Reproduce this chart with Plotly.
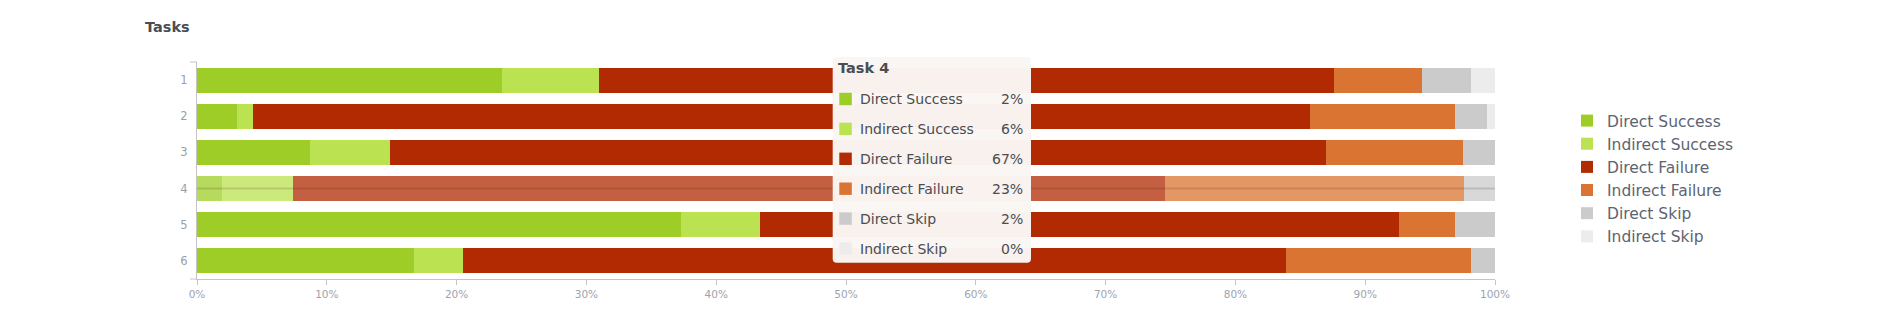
import plotly.graph_objects as go

# ---------------- data ----------------
tasks = ["1", "2", "3", "4", "5", "6"]
series_names = ["Direct Success", "Indirect Success", "Direct Failure",
                "Indirect Failure", "Direct Skip", "Indirect Skip"]
direct_success = [23.5, 3.1, 8.7, 1.9, 37.3, 16.7]
indirect_success = [7.5, 1.25, 6.2, 5.5, 6.1, 3.8]
direct_failure = [56.6, 81.4, 72.1, 67.2, 49.2, 63.4]
indirect_failure = [6.8, 11.15, 10.5, 23.0, 4.3, 14.25]
direct_skip = [3.75, 2.5, 2.5, 2.4, 3.1, 1.85]
indirect_skip = [1.85, 0.6, 0.0, 0.0, 0.0, 0.0]
x_ticks = [0, 10, 20, 30, 40, 50, 60, 70, 80, 90, 100]
x_tick_labels = ["0%", "10%", "20%", "30%", "40%", "50%", "60%", "70%", "80%", "90%", "100%"]
highlight_task = "4"

series_values = [direct_success, indirect_success, direct_failure,
                 indirect_failure, direct_skip, indirect_skip]
colors = ["#9ecd27", "#bbe250", "#b12a01", "#d97432", "#cbcbcb", "#ececec"]

FONT = "DejaVu Sans"
W, H = 1904, 332
ML, MR, MT, MB = 197, 409, 62, 53
PW, PH = W - ML - MR, H - MT - MB


def xp(px):
    return (px - ML) / PW


def yp(py):
    return (H - MB - py) / PH


fig = go.Figure()
hi = tasks.index(highlight_task)
for name, vals, col in zip(series_names, series_values, colors):
    fig.add_trace(go.Bar(
        y=tasks, x=vals, name=name, orientation="h",
        marker=dict(color=col, line=dict(width=0),
                    opacity=[0.75 if i == hi else 1 for i in range(len(tasks))]),
        hoverinfo="skip",
    ))

shapes = []
# hover crosshair line through highlighted row (category index)
shapes.append(dict(type="line", xref="paper", yref="y", x0=0, x1=1,
                   y0=hi, y1=hi,
                   line=dict(color="rgba(70,30,10,0.16)", width=2), layer="above"))
# left tick at top of category axis and extension of bottom axis line
shapes.append(dict(type="line", xref="paper", yref="paper", x0=xp(190), x1=0, y0=1, y1=1,
                   line=dict(color="#c4c4c4", width=1)))
shapes.append(dict(type="line", xref="paper", yref="paper", x0=xp(190), x1=0, y0=0, y1=0,
                   line=dict(color="#c4c4c4", width=1)))

# tooltip box (rounded)
bx0, bx1, by0, by1, r = 832.7, 1031, 57, 262.7, 4


def P(px, py):
    return f"{xp(px):.6f},{yp(py):.6f}"


path = (f"M{P(bx0 + r, by0)} L{P(bx1 - r, by0)} Q{P(bx1, by0)} {P(bx1, by0 + r)} "
        f"L{P(bx1, by1 - r)} Q{P(bx1, by1)} {P(bx1 - r, by1)} "
        f"L{P(bx0 + r, by1)} Q{P(bx0, by1)} {P(bx0, by1 - r)} "
        f"L{P(bx0, by0 + r)} Q{P(bx0, by0)} {P(bx0 + r, by0)} Z")
shapes.append(dict(type="path", xref="paper", yref="paper", path=path,
                   fillcolor="rgba(250,246,244,0.975)", line=dict(width=0), layer="above"))

TXT = "#4a4d52"
annotations = []
annotations.append(dict(xref="paper", yref="paper", x=xp(836), y=yp(68.3),
                        xanchor="left", yanchor="middle", showarrow=False,
                        text=f"<b>Task {highlight_task}</b>",
                        font=dict(family=FONT, size=14.5, color=TXT)))
row_y0, row_dy = 99, 29.9
for k, (name, vals, col) in enumerate(zip(series_names, series_values, colors)):
    cy = row_y0 + k * row_dy
    shapes.append(dict(type="rect", xref="paper", yref="paper",
                       x0=xp(839.3), x1=xp(851.8), y0=yp(cy - 6.2), y1=yp(cy + 6.2),
                       fillcolor=col, line=dict(width=0), layer="above"))
    annotations.append(dict(xref="paper", yref="paper", x=xp(857.5), y=yp(cy),
                            xanchor="left", yanchor="middle", showarrow=False,
                            text=name, font=dict(family=FONT, size=14, color=TXT)))
    annotations.append(dict(xref="paper", yref="paper", x=xp(1025), y=yp(cy),
                            xanchor="right", yanchor="middle", showarrow=False,
                            text=f"{round(vals[hi])}%",
                            font=dict(family=FONT, size=14, color=TXT)))

fig.update_layout(
    width=W, height=H,
    margin=dict(l=ML, r=MR, t=MT, b=MB, pad=0),
    barmode="stack", bargap=0.31,
    paper_bgcolor="white", plot_bgcolor="white",
    font=dict(family=FONT),
    hovermode=False,
    title=dict(text="<b>Tasks</b>", x=145 / W, xanchor="left", xref="container",
               y=1 - 26.7 / H, yanchor="middle", yref="container",
               font=dict(family=FONT, size=14.5, color=TXT)),
    xaxis=dict(range=[0, 100], tickvals=x_ticks, ticktext=x_tick_labels,
               showgrid=False, zeroline=False, showline=True, linecolor="#c4c4c4",
               linewidth=1, ticks="outside", ticklen=5, tickcolor="#c4c4c4",
               tickfont=dict(family=FONT, size=10.5, color="#9aa4b0")),
    yaxis=dict(autorange="reversed", showgrid=False, zeroline=False,
               showline=True, linecolor="#c4c4c4", linewidth=1,
               ticks="outside", ticklen=6, tickcolor="rgba(0,0,0,0)",
               tickfont=dict(family=FONT, size=11.5, color="#9aa0a8")),
    legend=dict(xref="container", yref="container", x=1567 / W, xanchor="left",
                y=1 - 104 / H, yanchor="top", traceorder="normal",
                font=dict(family=FONT, size=15.5, color="#5d6470"),
                itemwidth=30, tracegroupgap=0, bgcolor="rgba(0,0,0,0)"),
    shapes=shapes, annotations=annotations,
)

fig.write_html("out.html")
